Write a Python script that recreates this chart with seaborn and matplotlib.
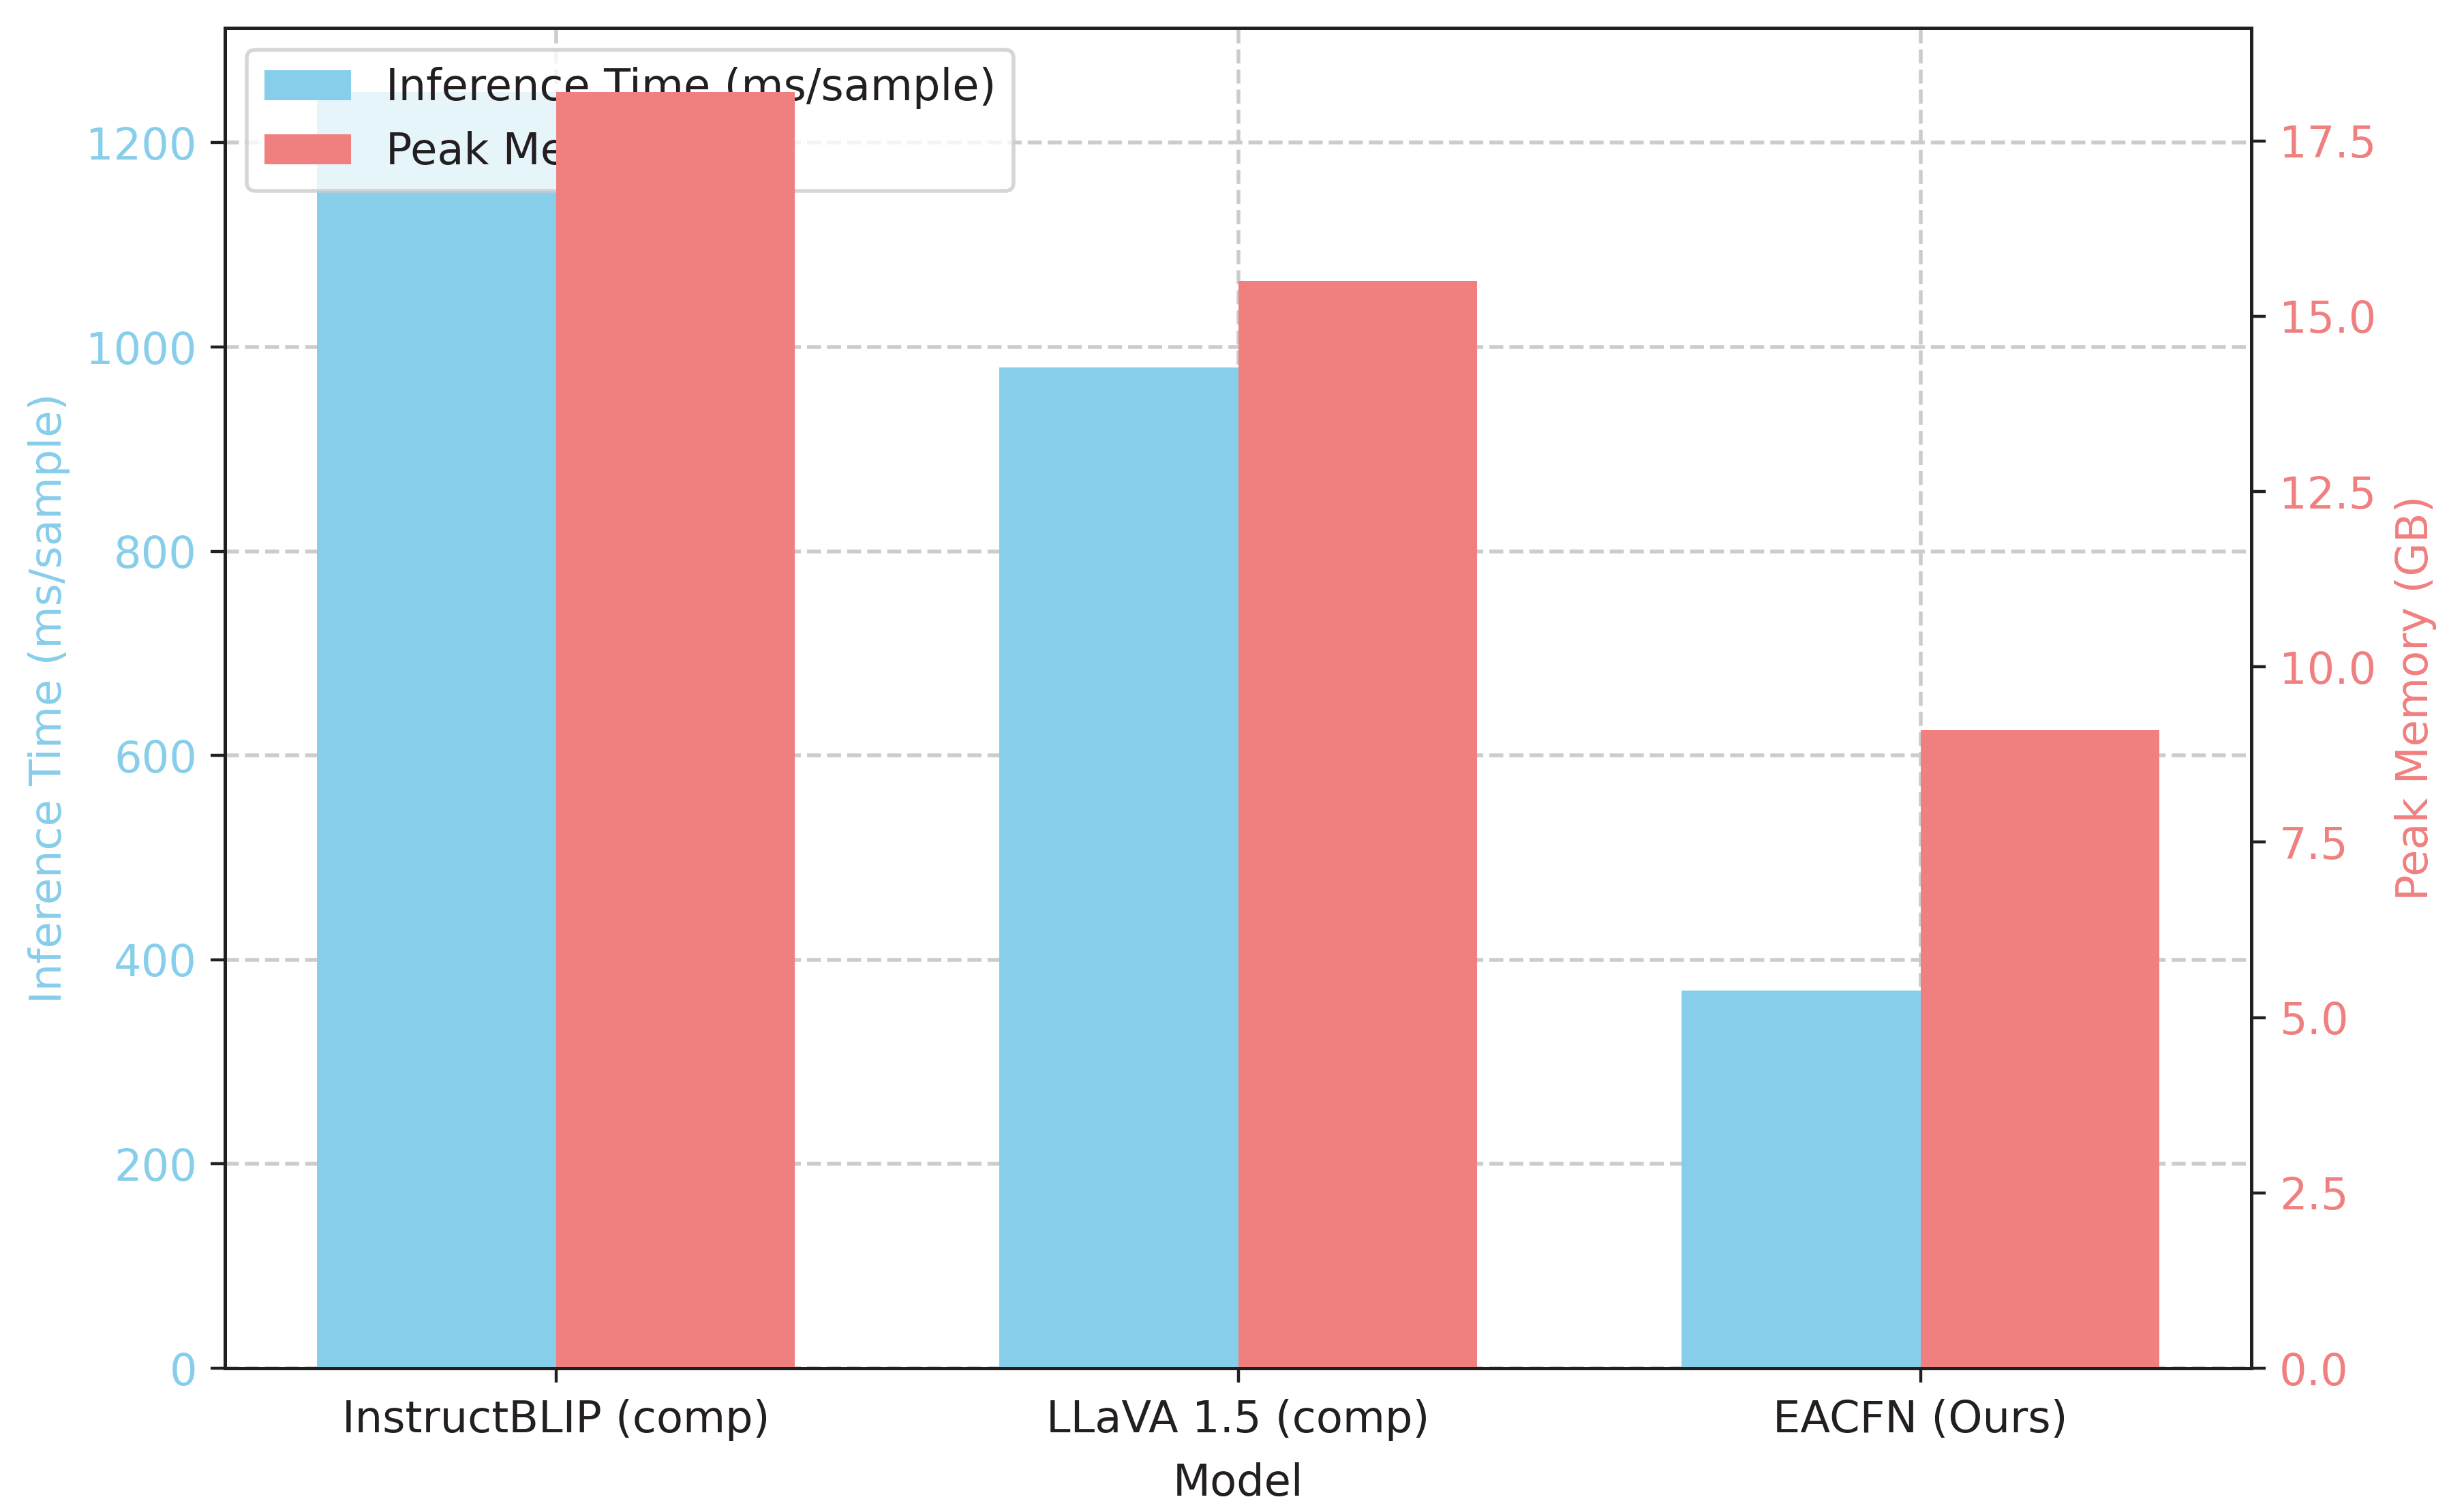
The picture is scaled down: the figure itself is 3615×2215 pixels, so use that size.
import matplotlib
matplotlib.use("Agg")
import matplotlib.pyplot as plt
import seaborn as sns
import pandas as pd

models = ["InstructBLIP (comp)", "LLaVA 1.5 (comp)", "EACFN (Ours)"]
inference_ms = [1250, 980, 370]
peak_mem_gb = [18.2, 15.5, 9.1]
series_names = ["Inference Time (ms/sample)", "Peak Memory (GB)"]
series_colors = ["skyblue", "lightcoral"]

sns.set_theme(style="ticks")
FS = 11.5
DARK = "#231f20"
plt.rcParams.update({
    "font.family": ["DejaVu Sans"],
    "font.size": FS,
    "axes.labelsize": FS,
    "xtick.labelsize": FS,
    "ytick.labelsize": FS,
    "legend.fontsize": FS,
    "axes.edgecolor": DARK,
    "axes.linewidth": 0.9,
    "xtick.color": DARK,
    "ytick.color": DARK,
    "xtick.major.size": 3.8,
    "ytick.major.size": 3.8,
    "xtick.major.width": 0.8,
    "ytick.major.width": 0.8,
    "xtick.major.pad": 4.3,
    "ytick.major.pad": 3.6,
    "axes.labelpad": 4.3,
    "text.color": DARK,
    "axes.labelcolor": DARK,
    "patch.linewidth": 1.0,
})

df = pd.DataFrame({
    "Model": models * 2,
    "Metric": [series_names[0]] * 3 + [series_names[1]] * 3,
    "Value": inference_ms + peak_mem_gb,
})
palette = dict(zip(series_names, series_colors))

DPI = 400
fig, ax1 = plt.subplots(figsize=(3615 / DPI, 2215 / DPI), dpi=DPI)
fig.subplots_adjust(left=0.0913, right=0.9137, bottom=0.0939, top=0.9815)

sns.barplot(data=df[df["Metric"] == series_names[0]], x="Model", y="Value",
            hue="Metric", hue_order=series_names, palette=palette,
            order=models, width=0.7, dodge=True, errorbar=None, legend=False,
            ax=ax1, saturation=1, linewidth=0)
ax2 = ax1.twinx()
sns.barplot(data=df[df["Metric"] == series_names[1]], x="Model", y="Value",
            hue="Metric", hue_order=series_names, palette=palette,
            order=models, width=0.7, dodge=True, errorbar=None, legend=False,
            ax=ax2, saturation=1, linewidth=0)

ax1.set_xlim(-0.485, 2.485)
ax1.set_ylim(0, max(inference_ms) * 1.05)
ax2.set_ylim(0, max(peak_mem_gb) * 1.05)

ax1.set_xlabel("Model", labelpad=5.6)
ax1.set_ylabel(series_names[0], color=series_colors[0])
ax2.set_ylabel(series_names[1], color=series_colors[1], labelpad=4.8)
ax2.set_xlabel("")
ax1.tick_params(axis="y", labelcolor=series_colors[0])
ax2.tick_params(axis="y", labelcolor=series_colors[1])

ax1.set_axisbelow(True)
ax1.grid(True, axis="both", linestyle="--", linewidth=1.0, color="#cccccc")
ax2.grid(False)
for ax in (ax1, ax2):
    for s in ax.spines.values():
        s.set_visible(True)
        s.set_linewidth(0.9)
        s.set_color(DARK)

handles = [ax1.patches[0], ax2.patches[0]]
leg = ax1.legend(handles, series_names, loc="upper left", frameon=True)
leg.get_frame().set_linewidth(1.0)

fig.savefig("out.png", dpi=DPI)
